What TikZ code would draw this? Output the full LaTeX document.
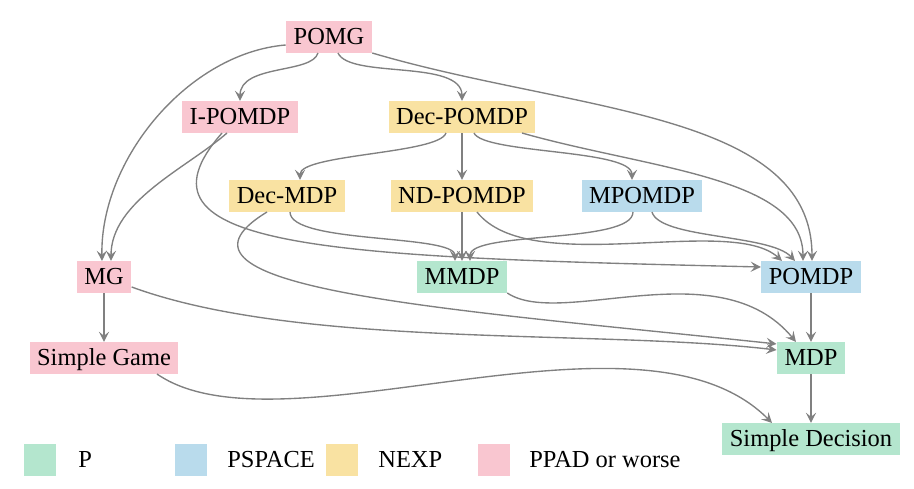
\documentclass[tikz,border=0pt]{standalone}
\usepackage{fontspec}
\setmainfont{Liberation Serif}
\usepackage{tikz}
\usetikzlibrary{arrows.meta,calc}
\definecolor{cP}{HTML}{B4E6CE}
\definecolor{cPSPACE}{HTML}{B9DBEC}
\definecolor{cNEXP}{HTML}{F9E2A2}
\definecolor{cPPAD}{HTML}{F9C6D0}
\definecolor{linkgray}{HTML}{808080}
\tikzset{
  cls/.style={inner xsep=3.3pt,inner ysep=0pt,text height=10.2pt,text depth=3.5pt,font=\fontsize{10.75}{12}\selectfont},
  P/.style={cls,fill=cP},
  PSPACE/.style={cls,fill=cPSPACE},
  NEXP/.style={cls,fill=cNEXP},
  PPAD/.style={cls,fill=cPPAD},
  swatch/.style={minimum width=14.5pt,minimum height=14pt,inner sep=0pt},
  legtext/.style={anchor=west,inner sep=0pt,text height=10.2pt,text depth=3.5pt,font=\fontsize{10.75}{12}\selectfont},
  link/.style={->,draw=linkgray,line width=0.6pt}
}
\begin{document}
\begin{tikzpicture}[x=0.01545cm,y=0.01545cm,>={Stealth[length=4.5pt,width=4.5pt,inset=1.8pt]}]
        \useasboundingbox (0,0) rectangle (914,489);
        \node[PPAD](pomg)at(329,452){POMG};
        \node[PPAD](ipomdp)at(240,372){I-POMDP};
        \node[NEXP](decpomdp)at(462,372){Dec-POMDP};
        \node[NEXP](decmdp)at(287,293){Dec-MDP};
        \node[NEXP](ndpomdp)at(462,293){ND-POMDP};
        \node[PSPACE](mpomdp)at(642,293){MPOMDP};
        \node[PPAD](mg)at(104,212){MG};
        \node[P](mmdp)at(462,212){MMDP};
        \node[PSPACE](pomdp)at(811,212){POMDP};
        \node[PPAD](sgame)at(104,131){Simple Game};
        \node[P](mdp)at(811,131){MDP};
        \node[P](sdec)at(811,50){Simple Decision};

        \node[swatch,fill=cP](swP)at(40,29){};
        \node[swatch,fill=cPSPACE](swPSPACE)at(191,29){};
        \node[swatch,fill=cNEXP](swNEXP)at(342,29){};
        \node[swatch,fill=cPPAD](swPPAD)at(494,29){};
        \node[legtext](lP)at($(swP.east)+(21,0)$){P};
        \node[legtext](lPSPACE)at($(swPSPACE.east)+(19,0)$){PSPACE};
        \node[legtext](lNEXP)at($(swNEXP.east)+(19,0)$){NEXP};
        \node[legtext](lPPAD)at($(swPPAD.east)+(18,0)$){PPAD or worse};

        \draw[link]($(pomg.south)+(-11,0)$)..controls +(-6,-21) and +(0,37)..(ipomdp.north);
        \draw[link]($(pomg.south)+(9,0)$)..controls +(12,-26) and +(0,42)..(decpomdp.north);
        \draw[link]($(pomg.west)+(0,-8)$)..controls +(-97,-8) and +(-2,102)..($(mg.north)+(-2,0)$);
        \draw[link](pomg.south east)..controls +(200,-59) and +(0,150)..($(pomdp.north)+(1,0)$);
        \draw[link]($(ipomdp.south)+(-13,0)$)..controls +(-40,-35) and +(0,60)..($(mg.north)+(7,0)$);
        \draw[link]($(ipomdp.south)+(-18,0)$)..controls +(-102,-116) and +(-433,10)..($(pomdp.west)+(0,10)$);
        \draw[link]($(decpomdp.south)+(-16,0)$)..controls +(-7,-21) and +(0,26)..($(decmdp.north)+(13,0)$);
        \draw[link](decpomdp.south)--(ndpomdp.north);
        \draw[link]($(decpomdp.south)+(12,0)$)..controls +(10,-21) and +(0,31)..($(mpomdp.north)+(-10,0)$);
        \draw[link]($(decpomdp.south)+(60,0)$)..controls +(127,-36) and +(0,84)..($(pomdp.north)+(-8,0)$);
        \draw[link]($(decmdp.south)+(3,0)$)..controls +(0,-32) and +(0,27)..($(mmdp.north)+(-7,0)$);
        \draw[link]($(decmdp.south)+(-20,0)$)..controls +(-127,-77) and +(-329,35)..($(mdp.north west)+(0,-2)$);
        \draw[link](ndpomdp.south)--(mmdp.north);
        \draw[link]($(ndpomdp.south)+(15,0)$)..controls +(53,-67) and +(-52,47)..($(pomdp.north)+(-29,0)$);
        \draw[link]($(mpomdp.south)+(-9,0)$)..controls +(0,-32) and +(0,30)..($(mmdp.north)+(8,0)$);
        \draw[link]($(mpomdp.south)+(10,0)$)..controls +(8,-27) and +(-25,27)..($(pomdp.north)+(-16,0)$);
        \draw[link](mg.south)--(sgame.north);
        \draw[link]($(mg.east)+(0,-10)$)..controls +(169,-62) and +(-179,21)..($(mdp.west)+(0,8)$);
        \draw[link](mmdp.south east)..controls +(54,-36) and +(-77,93)..($(mdp.north)+(-15,0)$);
        \draw[link](pomdp.south)--(mdp.north);
        \draw[link](mdp.south)--(sdec.north);
        \draw[link]($(sgame.south)+(53,0)$)..controls +(123,-85) and +(-132,133)..($(sdec.north)+(-39,0)$);

    \end{tikzpicture}
\end{document}
